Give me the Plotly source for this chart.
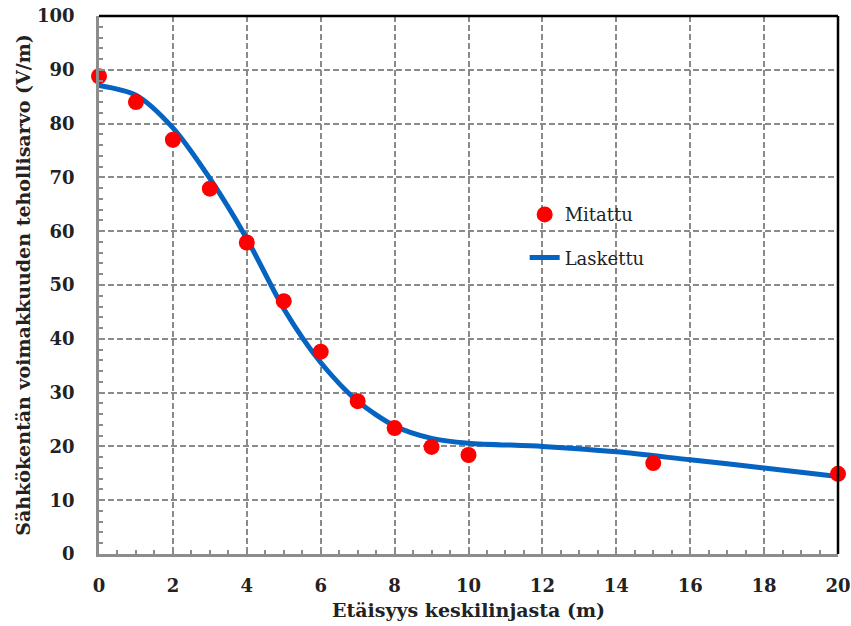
import plotly.graph_objects as go

# Measured values (Mitattu)
meas_x = [0, 1, 2, 3, 4, 5, 6, 7, 8, 9, 10, 15, 20]
meas_y = [88.8, 84.0, 77.0, 67.9, 57.9, 47.0, 37.6, 28.4, 23.4, 19.9, 18.4, 16.9, 14.9]

# Calculated values (Laskettu)
calc_x = [0, 1, 2, 3, 4, 5, 6, 7, 8, 9, 10, 12, 14, 16, 18, 20]
calc_y = [87.1, 85.3, 79.2, 69.8, 58.6, 45.6, 35.6, 28.4, 23.8, 21.5, 20.6, 20.0, 19.0, 17.5, 16.0, 14.4]

x_ticks = [0, 2, 4, 6, 8, 10, 12, 14, 16, 18, 20]
y_ticks = [0, 10, 20, 30, 40, 50, 60, 70, 80, 90, 100]

serif = "DejaVu Serif"
fig = go.Figure()
fig.add_trace(go.Scatter(
    x=calc_x, y=calc_y, mode="lines", name="Laskettu",
    line=dict(color="#0563C1", width=5, shape="spline", smoothing=0.8),
    legend="legend2", showlegend=True, cliponaxis=False))
fig.add_trace(go.Scatter(
    x=meas_x, y=meas_y, mode="markers", name="Mitattu",
    marker=dict(color="#FF0000", size=16, line=dict(width=0)),
    legend="legend", showlegend=True, cliponaxis=False))

fig.update_layout(
    width=851, height=626,
    margin=dict(l=99, r=13, t=16, b=72),
    paper_bgcolor="white", plot_bgcolor="white",
    showlegend=True,
    font=dict(family=serif, color="#222222"),
    legend=dict(x=0.576, y=0.665, xanchor="left", yanchor="top",
                font=dict(family=serif, size=18, color="#222222"),
                bgcolor="rgba(0,0,0,0)", visible=True),
    legend2=dict(x=0.576, y=0.585, xanchor="left", yanchor="top",
                 font=dict(family=serif, size=18, color="#222222"),
                 bgcolor="rgba(0,0,0,0)", visible=True),
    xaxis=dict(range=[0, 20], tickvals=x_ticks,
               ticktext=[str(v) for v in x_ticks],
               showgrid=True, gridcolor="#8a8a8a", gridwidth=1.5, griddash="6px,3px",
               showline=True, linecolor="#8c8c8c", linewidth=2.5,
               ticks="inside", ticklen=6, tickcolor="#8c8c8c", tickwidth=1.5,
               minor=dict(dtick=0.5, ticks="inside", ticklen=4, tickcolor="#8c8c8c", tickwidth=1.5, showgrid=False),
               tickfont=dict(family=serif, size=18, color="#222222", weight="bold"),
               ticklabelstandoff=14, automargin=False,
               title=dict(text="<b>Etäisyys keskilinjasta (m)</b>", font=dict(family=serif, size=19, color="#222222"), standoff=9),
               zeroline=False, fixedrange=True),
    yaxis=dict(range=[0, 100], tickvals=y_ticks,
               ticktext=[str(v) for v in y_ticks],
               showgrid=True, gridcolor="#8a8a8a", gridwidth=1.5, griddash="6px,3px",
               showline=True, linecolor="#8c8c8c", linewidth=2.5,
               ticks="inside", ticklen=6, tickcolor="#8c8c8c", tickwidth=1.5,
               minor=dict(dtick=2, ticks="inside", ticklen=4, tickcolor="#8c8c8c", tickwidth=1.5, showgrid=False),
               tickfont=dict(family=serif, size=18, color="#222222", weight="bold"),
               ticklabelstandoff=18, automargin=False,
               title=dict(text="<b>Sähkökentän voimakkuuden tehollisarvo (V/m)</b>", font=dict(family=serif, size=19, color="#222222"), standoff=2),
               zeroline=False, fixedrange=True),
    shapes=[
        dict(type="line", xref="paper", yref="paper", x0=0, x1=1, y0=1, y1=1,
             line=dict(color="black", width=2.5), layer="above"),
        dict(type="line", xref="paper", yref="paper", x0=1, x1=1, y0=0, y1=1,
             line=dict(color="black", width=2.5), layer="above"),
    ],
)

fig.write_html("out.html")
